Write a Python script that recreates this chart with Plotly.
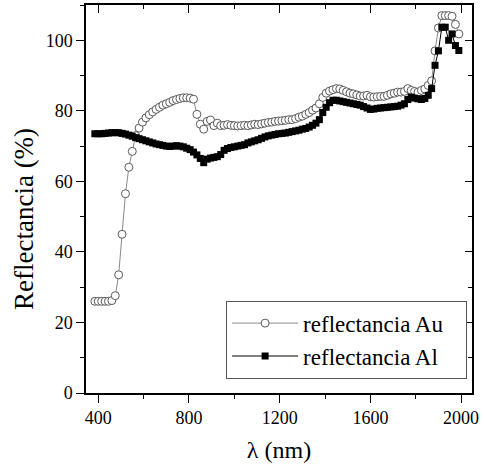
import plotly.graph_objects as go

# Wavelength grid (nm) shared by both reflectance measurements
wavelength = [
    385, 400, 415, 430, 445, 460, 475, 490, 505, 520, 535, 550, 565, 580, 595,
    610, 625, 640, 655, 670, 685, 700, 715, 730, 745, 760, 775, 790, 805, 820,
    835, 850, 865, 880, 895, 910, 925, 940, 955, 970, 985, 1000, 1015, 1030,
    1045, 1060, 1075, 1090, 1105, 1120, 1135, 1150, 1165, 1180, 1195, 1210,
    1225, 1240, 1255, 1270, 1285, 1300, 1315, 1330, 1345, 1360, 1375, 1390,
    1405, 1420, 1435, 1450, 1465, 1480, 1495, 1510, 1525, 1540, 1555, 1570,
    1585, 1600, 1615, 1630, 1645, 1660, 1675, 1690, 1705, 1720, 1735, 1750,
    1765, 1780, 1795, 1810, 1825, 1840, 1855, 1870, 1885, 1900, 1915, 1930,
    1945, 1960, 1975, 1990,
]

# Reflectance of the gold film (%)
refl_au = [
    26.0, 26.0, 26.0, 26.0, 26.0, 26.2, 27.6, 33.5, 45.0, 56.5, 64.0, 68.5, 73.0, 75.1, 76.8,
    78.0, 78.9, 79.7, 80.4, 81.0, 81.6, 82.0, 82.4, 82.9, 83.2, 83.5, 83.7, 83.7, 83.6, 83.3,
    79.0, 76.2, 74.8, 77.0, 77.4, 75.8, 76.5, 75.8, 75.9, 76.1, 75.9, 75.8, 75.7, 75.8,
    75.9, 75.8, 76.0, 76.2, 76.1, 76.3, 76.5, 76.7, 76.8, 77.0, 77.1, 77.2,
    77.3, 77.5, 77.5, 77.8, 78.2, 78.5, 79.0, 79.5, 80.2, 80.8, 82.0, 83.8,
    85.0, 85.6, 86.0, 86.3, 86.2, 85.8, 85.4, 85.0, 84.8, 84.5, 84.2, 84.2,
    84.4, 84.0, 83.9, 84.0, 84.1, 84.1, 84.4, 84.8, 85.0, 85.3, 85.3, 85.5,
    86.3, 85.8, 85.5, 85.3, 85.8, 86.2, 87.2, 88.5, 97.0, 103.5, 107.0, 107.0,
    107.0, 106.8, 104.5, 101.8,
]

# Reflectance of the aluminium film (%)
refl_al = [
    73.5, 73.5, 73.5, 73.6, 73.7, 73.8, 73.8, 73.8, 73.6, 73.4, 73.1, 72.8, 72.4, 72.1, 71.8,
    71.5, 71.2, 70.9, 70.6, 70.4, 70.2, 70.0, 69.9, 70.0, 70.1, 70.0, 69.8, 69.4, 69.0, 68.3,
    67.5, 66.5, 65.3, 66.3, 66.6, 66.8, 67.0, 67.6, 68.8, 69.3, 69.6, 69.8, 70.0, 70.2,
    70.4, 70.9, 71.2, 71.5, 71.8, 72.2, 72.6, 72.9, 73.1, 73.3, 73.5, 73.6,
    73.7, 73.9, 74.1, 74.3, 74.5, 74.8, 75.0, 75.4, 75.9, 76.5, 77.5, 79.5,
    81.0, 82.3, 83.0, 83.0, 82.8, 82.6, 82.4, 82.2, 82.0, 81.8, 81.6, 81.2,
    80.8, 80.4, 80.5, 80.7, 80.8, 80.9, 81.0, 81.1, 81.2, 81.3, 81.6, 82.0,
    83.2, 83.9, 83.6, 83.4, 83.2, 83.5, 84.4, 86.3, 92.9, 97.0, 103.7, 103.7,
    100.0, 101.8, 98.5, 97.1,
]

x_ticks = [400, 800, 1200, 1600, 2000]
y_ticks = [0, 20, 40, 60, 80, 100]
x_range = [346, 2048]
y_range = [0, 110]

FONT = "Liberation Serif"
PAD = "\u00a0\u00a0\u00a0"  # right-hand padding inside the legend box

fig = go.Figure()

fig.add_trace(go.Scatter(
    x=wavelength, y=refl_au, mode="lines+markers", name="reflectancia Au" + PAD,
    line=dict(color="#8a8a8a", width=1),
    marker=dict(symbol="circle", size=8, color="white",
                line=dict(color="#5a5a5a", width=1)),
))
fig.add_trace(go.Scatter(
    x=wavelength, y=refl_al, mode="lines+markers", name="reflectancia Al" + PAD,
    line=dict(color="black", width=1),
    marker=dict(symbol="square", size=7, color="black",
                line=dict(color="black", width=0)),
))
# Empty trace that attaches the top/right frame axes
fig.add_trace(go.Scatter(x=[None], y=[None], xaxis="x2", yaxis="y2",
                         showlegend=False, hoverinfo="skip"))

axis_common = dict(showline=True, linecolor="black", linewidth=1.5,
                   showgrid=False, zeroline=False, tickcolor="black",
                   tickwidth=1.2)

fig.update_layout(
    width=484, height=465, autosize=False,
    margin=dict(l=86, r=10, t=5, b=72),
    paper_bgcolor="white", plot_bgcolor="white",
    font=dict(family=FONT, color="black", size=18),
    xaxis=dict(range=x_range, tickvals=x_ticks, ticks="outside", ticklen=8,
               minor=dict(dtick=200, tick0=400, ticks="outside", ticklen=4,
                          tickcolor="black"),
               tickfont=dict(size=18, family=FONT),
               title=dict(text="λ (nm)", font=dict(size=24, family=FONT),
                          standoff=14),
               **axis_common),
    yaxis=dict(range=y_range, tickvals=y_ticks, ticks="outside", ticklen=8,
               minor=dict(dtick=10, tick0=0, ticks="outside", ticklen=4,
                          tickcolor="black"),
               tickfont=dict(size=18, family=FONT),
               **axis_common),
    xaxis2=dict(range=x_range, overlaying="x", side="top", tickvals=x_ticks,
                ticks="inside", ticklen=8, showticklabels=False,
                minor=dict(dtick=200, tick0=400, ticks="inside", ticklen=4,
                           tickcolor="black"),
                **axis_common),
    yaxis2=dict(range=y_range, overlaying="y", side="right", tickvals=y_ticks,
                ticks="inside", ticklen=7, showticklabels=False,
                minor=dict(dtick=10, tick0=0, ticks="inside", ticklen=4,
                           tickcolor="black"),
                **axis_common),
    legend=dict(x=0.363, y=0.238, xanchor="left", yanchor="top",
                bgcolor="white", bordercolor="#555555", borderwidth=1,
                font=dict(size=23, family=FONT), itemwidth=66,
                tracegroupgap=2),
    annotations=[dict(text="Reflectancia (%)", textangle=-90,
                      xref="paper", yref="paper", x=-0.16, y=0.449,
                      xanchor="center", yanchor="middle", showarrow=False,
                      font=dict(size=27, family=FONT))],
    showlegend=True,
)

fig.write_html("out.html")
